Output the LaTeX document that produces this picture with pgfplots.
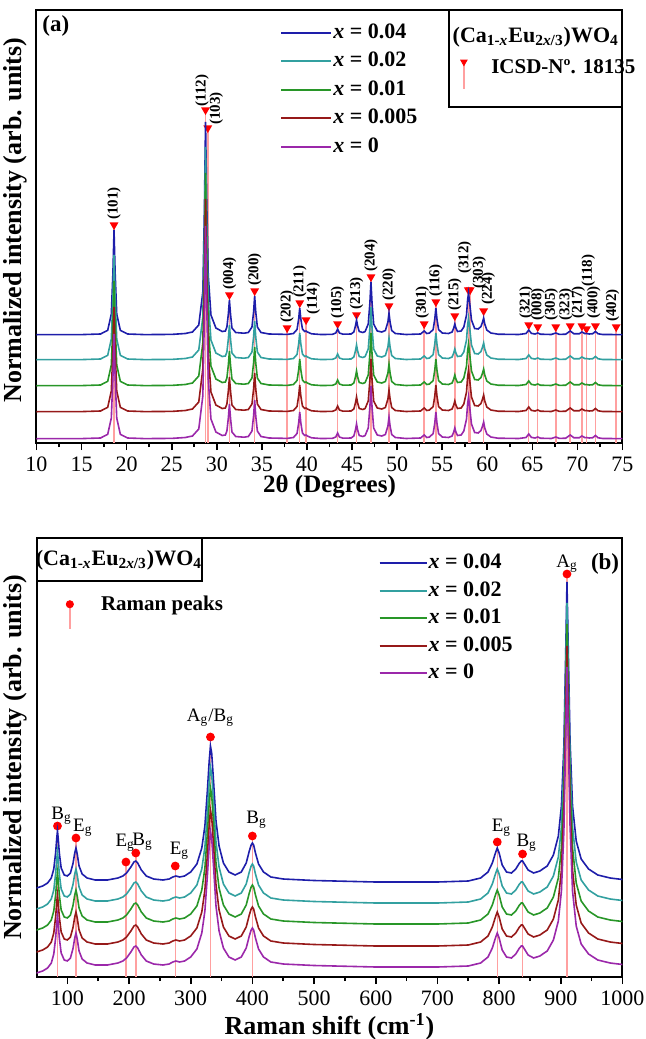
\documentclass[border=0pt]{standalone}
\usepackage{pgfplots}
\pgfplotsset{compat=1.18}
\usepackage{pgfplotstable}
\usepackage{fontspec}
\setmainfont{Liberation Serif}

\definecolor{cA}{RGB}{30,30,170}
\definecolor{cB}{RGB}{50,160,160}
\definecolor{cC}{RGB}{40,150,40}
\definecolor{cD}{RGB}{150,25,25}
\definecolor{cE}{RGB}{155,40,170}
\definecolor{peakline}{RGB}{255,160,160}

% XRD profile (relative to each curve's baseline)
\pgfplotstableread{
x p
10 0.3
15 0.4
17.1 1
17.9 4.7
18.3 21
18.48 63
18.6 105
18.72 63
18.9 21
19.3 4.7
20.1 1
22 0.4
25 0.6
26.5 1.5
27.3 3
28.0 10
28.45 43
28.63 128
28.75 213
28.87 140
29.05 60
29.35 20
29.9 7
30.6 3.5
30.95 4
31.12 8
31.28 21
31.4 35
31.52 21
31.68 7
32.1 2.5
33.0 1.8
33.5 2.5
33.9 8
34.08 23
34.2 39
34.32 23
34.5 8
34.9 2.5
35.8 1
37.8 0.6
38.5 1.5
38.9 5.5
39.08 16
39.2 27
39.32 16
39.5 6
39.75 3.5
39.9 4
40.05 3
40.5 1.2
41.5 0.5
42.8 0.6
43.2 2
43.4 6
43.6 2
44.0 0.8
44.9 1
45.2 3
45.38 9
45.5 15
45.62 9
45.8 3.5
46.2 2.5
46.45 3.5
46.8 11
46.98 32
47.1 53
47.22 32
47.4 11
47.8 4
48.3 3
48.7 4.5
48.98 13
49.1 22
49.22 13
49.4 4.5
49.8 1.5
51.0 0.5
52.6 1
53.0 4
53.3 1.5
53.6 2
54.0 5.5
54.18 16
54.3 27
54.42 16
54.6 5.5
55.0 2
55.7 1.5
56.1 3
56.28 7
56.4 11
56.52 7
56.7 3.5
57.1 4
57.4 8
57.7 20
57.82 35
57.92 42
58.05 32
58.25 15
58.6 6.5
59.0 6
59.3 8.5
59.48 13
59.6 17
59.72 11
59.95 5
60.4 2
61.2 0.8
63.5 0.5
64.3 1.5
64.6 5
64.9 1.6
65.3 1
65.6 2
65.9 0.8
67.1 0.5
67.6 2
68.0 0.6
68.7 0.8
69.2 4
69.6 1.3
70.2 1.2
70.5 3
70.85 1.3
71.0 1.5
71.3 1
71.7 1.3
72.0 3.5
72.3 1.2
72.8 0.5
75 0.4
}\xrd

% ICSD reference reflections (marker heights)
\pgfplotstableread{
x y
18.6 218
28.75 333
29.0 315
31.4 148
34.2 152
37.8 115
39.2 140
39.9 123
43.4 119
45.5 128
47.1 166
49.1 137
53.0 119
54.3 141
56.4 127
57.9 153
58.1 153
59.6 132
64.6 118
65.6 116
67.6 116
69.2 117
70.5 117
71.0 114
72.0 117
74.3 116
}\xrdpk

% Raman profile (relative to each curve's baseline)
\pgfplotstableread{
x p
50 -7
60 -5
68 -2
74 3
78 12
81 28
83 44
84 50
85 44
87 28
90 13
95 6
100 5
105 8
109 17
112 28
114 33
116 27
119 15
124 7
132 3
145 1
165 1
182 3
190 5
196 8
203 14
208 19
211 20
214 18
220 11
228 5
240 2
255 1
265 2
271 4
276 5
282 4
290 5
300 9
310 17
318 33
323 55
327 90
330 120
332 135
334 128
337 100
341 60
346 35
353 18
362 9
372 6
382 9
390 18
395 30
398 36
400 38
402 36
405 28
410 17
418 9
430 4
450 2
500 0.5
600 -1
700 -1
750 0
770 3
782 9
789 18
794 28
797 33
800 28
805 16
812 9
820 8
827 12
833 18
836 20
838 20
841 17
847 11
856 8
866 10
878 15
888 26
896 45
901 75
905 135
908 230
910 299
912 235
915 140
919 75
925 40
933 22
945 12
960 6
980 3
1000 1.5
}\raman

% Raman peak positions (marker heights)
\pgfplotstableread{
x y
84 151
114 139
195 115
211 124
275 111
332 240
400 141
797 135
838 123
910 403
}\ramanpk

\pgfplotsset{
  myaxis/.style={
    scale only axis, width=293pt,
    clip mode=individual,
    axis line style={line width=1pt},
    tick style={line width=0.8pt, black},
    tick align=outside, xtick pos=left, ytick=\empty,
    minor x tick num=1,
    major tick length=3.5pt, minor tick length=2pt,
    tick label style={font=\fontsize{11}{13}\selectfont},
    /pgf/number format/assume math mode=true,
    /pgf/number format/1000 sep={},
    legend cell align=left,
  },
  curve/.style={line width=0.8pt},
}
\tikzset{
  lbl/.style={rotate=90, anchor=west, font=\fontsize{7.5}{9}\selectfont\bfseries, inner sep=0.5pt},
  rl/.style={font=\fontsize{9.5}{11}\selectfont, inner sep=0pt},
}

\begin{document}
\begin{tikzpicture}
\path[use as bounding box] (-18.25pt,-298pt) rectangle (304.25pt,221.5pt);

% ================= (a) XRD =================
\begin{axis}[myaxis, at={(0,0)}, anchor=south west, height=216.5pt,
  xmin=10, xmax=75, ymin=0, ymax=433,
  xtick={10,15,...,75},
  xlabel={\textbf{2θ (Degrees)}},
  xlabel style={at={(axis description cs:0.5,0)}, anchor=center, yshift=-22pt, font=\fontsize{12.5}{14}\selectfont},
  ylabel={\textbf{Normalized intensity (arb. units)}},
  ylabel style={at={(axis description cs:-0.037,0.515)}, anchor=center, font=\fontsize{13}{15}\selectfont},
  legend style={at={(axis description cs:0.4155,0.973)}, anchor=north west, draw=none, fill=none,
    inner sep=0pt, row sep=3.8pt, font=\fontsize{11}{13}\selectfont\bfseries,
    nodes={inner sep=0.5pt, text height=7.5pt, text depth=2pt},
    /tikz/every even column/.append style={column sep=2pt}},
  legend image code/.code={\draw[#1, line width=1pt] (0pt,0pt) -- (25pt,0pt);},
]
\addplot[ycomb, draw=peakline, line width=0.75pt, mark=triangle*, mark size=1.8pt,
  mark options={draw=red, fill=red, rotate=180}, forget plot] table[x=x, y=y] {\xrdpk};
\addplot[curve, cA] table[x=x, y expr=\thisrow{p}+108] {\xrd};
\addplot[curve, cB] table[x=x, y expr=\thisrow{p}+83] {\xrd};
\addplot[curve, cC] table[x=x, y expr=\thisrow{p}+57] {\xrd};
\addplot[curve, cD] table[x=x, y expr=\thisrow{p}+31] {\xrd};
\addplot[curve, cE] table[x=x, y expr=\thisrow{p}+4] {\xrd};
\legend{\textit{x} = 0.04, \textit{x} = 0.02, \textit{x} = 0.01, \textit{x} = 0.005, \textit{x} = 0}

\node[lbl] at (axis cs:18.6,222) {(101)};
\node[lbl] at (axis cs:28.35,335) {(112)};
\node[lbl] at (axis cs:29.95,317) {(103)};
\node[lbl] at (axis cs:31.4,152) {(004)};
\node[lbl] at (axis cs:34.2,156) {(200)};
\node[lbl] at (axis cs:37.8,119) {(202)};
\node[lbl] at (axis cs:39.2,144) {(211)};
\node[lbl] at (axis cs:40.7,127) {(114)};
\node[lbl] at (axis cs:43.4,123) {(105)};
\node[lbl] at (axis cs:45.5,132) {(213)};
\node[lbl] at (axis cs:47.1,170) {(204)};
\node[lbl] at (axis cs:49.1,141) {(220)};
\node[lbl] at (axis cs:52.8,123) {(301)};
\node[lbl] at (axis cs:54.3,145) {(116)};
\node[lbl] at (axis cs:56.4,131) {(215)};
\node[lbl] at (axis cs:57.5,168) {(312)};
\node[lbl] at (axis cs:59.1,153) {(303)};
\node[lbl] at (axis cs:60.1,137) {(224)};
\node[lbl] at (axis cs:64.3,123) {(321)};
\node[lbl] at (axis cs:65.6,121) {(008)};
\node[lbl] at (axis cs:67.1,121) {(305)};
\node[lbl] at (axis cs:68.7,121) {(323)};
\node[lbl] at (axis cs:70.1,123) {(217)};
\node[lbl] at (axis cs:71.2,155) {(118)};
\node[lbl] at (axis cs:71.8,123) {(400)};
\node[lbl] at (axis cs:73.9,120) {(402)};

\node[anchor=west, font=\fontsize{11.5}{13}\selectfont\bfseries, inner sep=0pt] at (axis description cs:0.0094,0.963) {(a)};
\draw[line width=1pt] (axis description cs:0.704,1) rectangle (axis description cs:1,0.776);
\node[font=\fontsize{11}{13}\selectfont\bfseries, inner sep=0pt] at (axis description cs:0.852,0.938) {(Ca\textsubscript{1-\textit{x}}Eu\textsubscript{2\textit{x}/3})WO\textsubscript{4}};
\end{axis}

% legend entry for the reference reflections
\begin{axis}[at={(0,0)}, anchor=south west, scale only axis, width=293pt, height=216.5pt,
  hide axis, xmin=0, xmax=1, ymin=0, ymax=1,
  legend style={at={(axis description cs:0.7225,0.8865)}, anchor=north west, draw=none, fill=none,
    inner sep=0pt, font=\fontsize{10.5}{12}\selectfont\bfseries, nodes={inner sep=0pt},
    /tikz/every odd column/.append style={column sep=11.9pt}},
  legend image code/.code={\draw[peakline, line width=0.8pt] (0pt,3pt) -- (0pt,-10.5pt);
     \fill[red] (-1.6pt,4pt) -- (1.6pt,4pt) -- (0pt,1.2pt) -- cycle;},
]
\addlegendimage{}
\addlegendentry{ICSD-Nº. 18135}
\end{axis}

% ================= (b) Raman =================
\begin{axis}[myaxis, at={(0,-47.5pt)}, anchor=north west, height=219.5pt,
  xmin=50, xmax=1000, ymin=0, ymax=439,
  xtick={100,200,...,1000},
  xlabel={\textbf{Raman shift (cm\textsuperscript{-1})}},
  xlabel style={at={(axis description cs:0.5,0)}, anchor=center, yshift=-25pt, font=\fontsize{13}{15}\selectfont},
  ylabel={\textbf{Normalized intensity (arb. units)}},
  ylabel style={at={(axis description cs:-0.036,0.5)}, anchor=center, font=\fontsize{13}{15}\selectfont},
  legend style={at={(axis description cs:0.583,0.967)}, anchor=north west, draw=none, fill=none,
    inner sep=0pt, row sep=3.25pt, font=\fontsize{11}{13}\selectfont\bfseries,
    nodes={inner sep=0.5pt, text height=7.5pt, text depth=2pt},
    /tikz/every even column/.append style={column sep=2pt}},
  legend image code/.code={\draw[#1, line width=1pt] (0pt,0pt) -- (23.5pt,0pt);},
]
\addplot[ycomb, draw=peakline, line width=0.75pt, mark=*, mark size=1.8pt,
  mark options={draw=red, fill=red}, forget plot] table[x=x, y=y] {\ramanpk};
\addplot[curve, cA] table[x=x, y expr=\thisrow{p}+96] {\raman};
\addplot[curve, cB] table[x=x, y expr=\thisrow{p}+75] {\raman};
\addplot[curve, cC] table[x=x, y expr=\thisrow{p}+54] {\raman};
\addplot[curve, cD] table[x=x, y expr=\thisrow{p}+32] {\raman};
\addplot[curve, cE] table[x=x, y expr=\thisrow{p}+11] {\raman};
\legend{\textit{x} = 0.04, \textit{x} = 0.02, \textit{x} = 0.01, \textit{x} = 0.005, \textit{x} = 0}

\node[rl, anchor=base west, xshift=-3.2pt] at (axis cs:84,158) {B\textsubscript{g}};
\node[rl, anchor=base west, xshift=-1.6pt] at (axis cs:114,146) {E\textsubscript{g}};
\node[rl, anchor=base west, xshift=-5.4pt] at (axis cs:195,131) {E\textsubscript{g}};
\node[rl, anchor=base west, xshift=-1.9pt] at (axis cs:211,132) {B\textsubscript{g}};
\node[rl, anchor=base west, xshift=-2.9pt] at (axis cs:275,123) {E\textsubscript{g}};
\node[rl, anchor=base] at (axis cs:332,256) {A\textsubscript{g}/B\textsubscript{g}};
\node[rl, anchor=base west, xshift=-3.2pt] at (axis cs:400,154) {B\textsubscript{g}};
\node[rl, anchor=base west, xshift=-2.9pt] at (axis cs:797,146) {E\textsubscript{g}};
\node[rl, anchor=base west, xshift=-3.2pt] at (axis cs:838,131) {B\textsubscript{g}};
\node[rl, anchor=base] at (axis cs:910,410) {A\textsubscript{g}};

\node[anchor=east, font=\fontsize{11.5}{13}\selectfont\bfseries, inner sep=0pt] at (axis description cs:0.995,0.941) {(b)};
\draw[line width=1pt] (axis description cs:0,1) rectangle (axis description cs:0.2824,0.902);
\node[font=\fontsize{11}{13}\selectfont\bfseries, inner sep=0pt] at (axis description cs:0.1408,0.950) {(Ca\textsubscript{1-\textit{x}}Eu\textsubscript{2\textit{x}/3})WO\textsubscript{4}};
\end{axis}

% legend entry for the Raman peaks
\begin{axis}[at={(0,-47.5pt)}, anchor=north west, scale only axis, width=293pt, height=219.5pt,
  hide axis, xmin=0, xmax=1, ymin=0, ymax=1,
  legend style={at={(axis description cs:0.0494,0.870)}, anchor=north west, draw=none, fill=none,
    inner sep=0pt, font=\fontsize{10.5}{12}\selectfont\bfseries, nodes={inner sep=0pt},
    /tikz/every odd column/.append style={column sep=13.6pt}},
  legend image code/.code={\draw[peakline, line width=0.8pt] (0pt,0pt) -- (0pt,-12.5pt);
     \fill[red] (0pt,0pt) circle (1.8pt);},
]
\addlegendimage{}
\addlegendentry{Raman peaks}
\end{axis}
\end{tikzpicture}
\end{document}
